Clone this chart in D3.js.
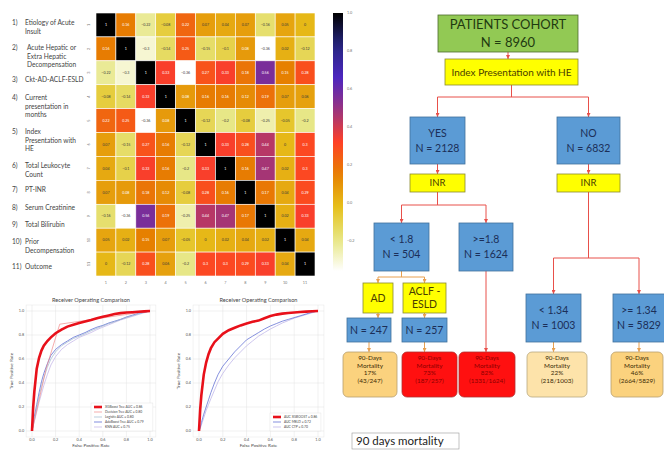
<!DOCTYPE html>
<html>
<head>
<meta charset="utf-8">
<script src="https://cdn.jsdelivr.net/npm/d3@7"></script>
<style>
  body { margin: 0; background: #fff; }
  svg { display: block; font-family: Lato, "Open Sans", sans-serif; }
</style>
</head>
<body>
<div id="chart"></div>
<script>
// ---- heatmap data ----
const varLabels = [
  ["Etiology of Acute", "Insult"],
  ["Acute Hepatic or", "Extra Hepatic", "Decompensation"],
  ["Ckt-AD-ACLF-ESLD"],
  ["Current", "presentation in", "months"],
  ["Index", "Presentation with", "HE"],
  ["Total Leukocyte", "Count"],
  ["PT-INR"],
  ["Serum Creatinine"],
  ["Total Bilirubin"],
  ["Prior", "Decompensation"],
  ["Outcome"]
];
const varTicks = ["1", "2", "3", "4", "5", "6", "7", "8", "9", "10", "11"];
const corr = [
  [1, 0.16, -0.22, -0.08, 0.22, 0.07, 0.04, 0.07, -0.16, 0.05, 0],
  [0.16, 1, -0.3, -0.14, 0.25, -0.15, -0.1, 0.08, -0.36, 0.02, -0.12],
  [-0.22, -0.3, 1, 0.33, -0.36, 0.27, 0.33, 0.18, 0.56, 0.15, 0.28],
  [-0.08, -0.14, 0.33, 1, 0.08, 0.16, 0.16, 0.12, 0.19, 0.07, 0.06],
  [0.22, 0.25, -0.36, 0.08, 1, -0.12, -0.2, -0.08, -0.25, -0.05, -0.2],
  [0.07, -0.15, 0.27, 0.16, -0.12, 1, 0.33, 0.28, 0.44, 0, 0.3],
  [0.04, -0.1, 0.33, 0.16, -0.2, 0.33, 1, 0.16, 0.47, 0.02, 0.3],
  [0.07, 0.08, 0.18, 0.12, -0.08, 0.28, 0.16, 1, 0.17, 0.04, 0.29],
  [-0.16, -0.36, 0.56, 0.19, -0.25, 0.44, 0.47, 0.17, 1, 0.02, 0.33],
  [0.05, 0.02, 0.15, 0.07, -0.05, 0, 0.02, 0.04, 0.02, 1, 0.04],
  [0, -0.12, 0.28, 0.06, -0.2, 0.3, 0.3, 0.29, 0.33, 0.04, 1]
];
const colorTicks = [1.0, 0.8, 0.6, 0.4, 0.2, 0.0, -0.2];
// CMRmap, reversed so that 1.0 is black
const cmrStops = ["#000000", "#262680", "#4d26bf", "#993380", "#ff4026", "#e68000", "#e6bf1a", "#e6e680", "#ffffff"];

// ---- ROC data ----
const fprGrid = [0, 0.01, 0.02, 0.04, 0.06, 0.08, 0.1, 0.13, 0.16, 0.2, 0.25, 0.3, 0.35, 0.4, 0.45, 0.5, 0.55, 0.6, 0.65, 0.7, 0.75, 0.8, 0.85, 0.9, 0.95, 1];
const xgbLeft = [0, 0.2, 0.33, 0.52, 0.61, 0.67, 0.71, 0.75, 0.78, 0.815, 0.845, 0.87, 0.885, 0.9, 0.912, 0.925, 0.94, 0.952, 0.963, 0.975, 0.982, 0.987, 0.99, 0.994, 0.997, 1];
const adaLeft = [0, 0.06, 0.12, 0.22, 0.32, 0.41, 0.48, 0.56, 0.63, 0.68, 0.72, 0.75, 0.78, 0.8, 0.82, 0.845, 0.865, 0.88, 0.9, 0.915, 0.93, 0.95, 0.965, 0.98, 0.99, 1];
const logLeft = [0, 0.05, 0.1, 0.2, 0.29, 0.37, 0.44, 0.53, 0.6, 0.66, 0.71, 0.74, 0.77, 0.79, 0.81, 0.835, 0.855, 0.875, 0.895, 0.91, 0.93, 0.945, 0.96, 0.975, 0.99, 1];
const knnLeft = [0, 0.04, 0.08, 0.16, 0.24, 0.31, 0.38, 0.47, 0.55, 0.62, 0.68, 0.72, 0.75, 0.78, 0.8, 0.82, 0.845, 0.865, 0.885, 0.905, 0.925, 0.94, 0.955, 0.97, 0.985, 1];
const dtFpr = [0, 0.12, 0.235, 1];
const dtTpr = [0, 0.52, 0.89, 1];
const xgbRight = [0, 0.18, 0.3, 0.47, 0.57, 0.64, 0.69, 0.74, 0.77, 0.81, 0.84, 0.86, 0.88, 0.895, 0.91, 0.92, 0.94, 0.958, 0.97, 0.978, 0.984, 0.988, 0.992, 0.995, 0.998, 1];
const meldRight = [0, 0.03, 0.07, 0.14, 0.2, 0.26, 0.32, 0.4, 0.47, 0.54, 0.6, 0.66, 0.71, 0.76, 0.79, 0.82, 0.85, 0.875, 0.895, 0.915, 0.93, 0.945, 0.96, 0.975, 0.99, 1];
const ctpRight = [0, 0.02, 0.05, 0.11, 0.17, 0.22, 0.27, 0.34, 0.41, 0.48, 0.55, 0.61, 0.66, 0.71, 0.75, 0.79, 0.82, 0.85, 0.875, 0.9, 0.92, 0.94, 0.955, 0.97, 0.985, 1];
const rocTicks = [0, 0.2, 0.4, 0.6, 0.8, 1.0];

// ---- decision tree data ----
const treeNodes = [
  {id: "cohort", kind: "green", lines: ["PATIENTS COHORT", "N = 8960"]},
  {id: "index", kind: "yellow", lines: ["Index Presentation with HE"]},
  {id: "yes", kind: "blue", lines: ["YES", "N = 2128"]},
  {id: "no", kind: "blue", lines: ["NO", "N = 6832"]},
  {id: "inrY", kind: "yellow", lines: ["INR"]},
  {id: "inrN", kind: "yellow", lines: ["INR"]},
  {id: "lt18", kind: "blue", lines: ["< 1.8", "N = 504"]},
  {id: "ge18", kind: "blue", lines: [">=1.8", "N = 1624"]},
  {id: "lt134", kind: "blue", lines: ["< 1.34", "N = 1003"]},
  {id: "ge134", kind: "blue", lines: [">= 1.34", "N = 5829"]},
  {id: "ad", kind: "yellow", lines: ["AD"]},
  {id: "aclf", kind: "yellow", lines: ["ACLF -", "ESLD"]},
  {id: "n247", kind: "blue", lines: ["N = 247"]},
  {id: "n257", kind: "blue", lines: ["N = 257"]},
  {id: "m1", kind: "peach", lines: ["90-Days", "Mortality", "17%", "(43/247)"]},
  {id: "m2", kind: "red", lines: ["90-Days", "Mortality", "73%", "(187/257)"]},
  {id: "m3", kind: "red", lines: ["90-Days", "Mortality", "82%", "(1331/1624)"]},
  {id: "m4", kind: "pale", lines: ["90-Days", "Mortality", "22%", "(218/1003)"]},
  {id: "m5", kind: "peach", lines: ["90-Days", "Mortality", "46%", "(2664/5829)"]}
];
const treeLinks = [
  ["cohort", ["index"], "red"],
  ["index", ["yes", "no"], "red"],
  ["yes", ["inrY"], "red"],
  ["no", ["inrN"], "red"],
  ["inrY", ["lt18", "ge18"], "red"],
  ["inrN", ["lt134", "ge134"], "red"],
  ["lt18", ["ad", "aclf"], "orange"],
  ["ad", ["n247"], "orange"],
  ["aclf", ["n257"], "orange"],
  ["ge18", ["m3"], "red"],
  ["n247", ["m1"], "orange"],
  ["n257", ["m2"], "orange"],
  ["lt134", ["m4"], "orange"],
  ["ge134", ["m5"], "orange"]
];

// box positions of the flow chart (x, y, w, h)
const boxLayout = {
  cohort: [438, 15, 140, 37], index: [445, 59, 133, 26],
  yes: [410, 117, 55, 47], no: [557, 117, 63, 47],
  inrY: [410, 174, 55, 18], inrN: [557, 174, 63, 18],
  lt18: [374, 223, 55, 48], ge18: [459, 223, 54, 48],
  lt134: [526, 294, 55, 48], ge134: [613, 294, 52, 48],
  ad: [363, 283, 30, 30], aclf: [403, 283, 43, 30],
  n247: [347, 318, 44, 24], n257: [402, 318, 45, 24],
  m1: [343, 352, 54, 45], m2: [402, 352, 55, 45], m3: [459, 352, 56, 45],
  m4: [527, 352, 60, 45], m5: [611, 352, 52, 45]
};
const branchY = {index: 97, inrY: 205, inrN: 258, lt18: 277};

const W = 664, H = 453;
const svg = d3.select("#chart").append("svg")
  .attr("width", W).attr("height", H);

// ================= heatmap =================
function renderHeatmap() {
  const vmin = -0.36, vmax = 1.0;
  const color = d3.scaleLinear()
    .domain(cmrStops.map((c, i) => vmax - i / (cmrStops.length - 1) * (vmax - vmin)))
    .range(cmrStops)
    .clamp(true);

  const x = d3.scaleBand().domain(varTicks).range([96, 315]);
  const y = d3.scaleBand().domain(varTicks).range([13, 276]);
  const g = svg.append("g");

  const cells = [];
  corr.forEach((row, i) => row.forEach((v, j) => cells.push({r: varTicks[i], c: varTicks[j], v})));

  g.selectAll("rect.cell").data(cells).enter().append("rect")
    .attr("class", "cell")
    .attr("x", d => x(d.c)).attr("y", d => y(d.r))
    .attr("width", x.bandwidth()).attr("height", y.bandwidth())
    .attr("fill", d => color(d.v))
    .attr("stroke", "#fff").attr("stroke-width", 0.6);

  const lum = c => {
    const rgb = d3.rgb(c);
    const f = u => { u /= 255; return u <= 0.03928 ? u / 12.92 : Math.pow((u + 0.055) / 1.055, 2.4); };
    return 0.2126 * f(rgb.r) + 0.7152 * f(rgb.g) + 0.0722 * f(rgb.b);
  };

  g.selectAll("text.annot").data(cells).enter().append("text")
    .attr("class", "annot")
    .attr("x", d => x(d.c) + x.bandwidth() / 2)
    .attr("y", d => y(d.r) + y.bandwidth() / 2)
    .attr("text-anchor", "middle").attr("dy", "0.35em")
    .attr("font-size", 3.6)
    .attr("fill", d => lum(color(d.v)) > 0.408 ? "#3a3a3a" : "#fff")
    .text(d => d3.format(".2~g")(d.v));

  // tick labels
  g.selectAll("text.ytick").data(varTicks).enter().append("text")
    .attr("transform", d => `translate(90, ${y(d) + y.bandwidth() / 2}) rotate(-90)`)
    .attr("text-anchor", "middle").attr("font-size", 3.8).attr("fill", "#777")
    .text(d => d);
  g.selectAll("text.xtick").data(varTicks).enter().append("text")
    .attr("x", d => x(d) + x.bandwidth() / 2).attr("y", 284)
    .attr("text-anchor", "middle").attr("font-size", 3.8).attr("fill", "#777")
    .text(d => d);

  // variable names on the left
  const labelY = [23, 48, 80, 98, 132, 166, 190, 208, 225, 242, 267];
  varLabels.forEach((lines, i) => {
    g.append("text").attr("x", 12).attr("y", labelY[i]).attr("dy", "0.35em")
      .attr("font-size", 6.6).attr("fill", "#444").text(`${i + 1})`);
    lines.forEach((ln, k) => {
      g.append("text").attr("x", i === 1 ? 27 : 25).attr("y", labelY[i] + k * 8.2).attr("dy", "0.35em")
        .attr("font-size", 6.6).attr("fill", "#444").text(ln);
    });
  });

  // colorbar
  const cb = d3.scaleLinear().domain([vmin, vmax]).range([271, 13]);
  const grad = svg.append("defs").append("linearGradient")
    .attr("id", "cbgrad").attr("x1", 0).attr("y1", 1).attr("x2", 0).attr("y2", 0);
  d3.range(0, 1.0001, 0.05).forEach(t => {
    grad.append("stop").attr("offset", t).attr("stop-color", color(vmin + t * (vmax - vmin)));
  });
  g.append("rect").attr("x", 333).attr("y", cb(vmax)).attr("width", 10)
    .attr("height", cb(vmin) - cb(vmax)).attr("fill", "url(#cbgrad)");
  g.selectAll("text.cbt").data(colorTicks).enter().append("text")
    .attr("x", 347).attr("y", d => cb(d)).attr("dy", "0.35em")
    .attr("font-size", 3.8).attr("fill", "#777")
    .text(d => d3.format(".1f")(d));
}

// ================= ROC panels =================
function renderRoc(x0, x1, title, series, legendX) {
  const x = d3.scaleLinear().domain([0, 1]).range([x0, x1]);
  const y = d3.scaleLinear().domain([0, 1]).range([431, 311]);
  const g = svg.append("g");

  g.append("rect").attr("x", x(-0.05)).attr("y", y(1.05))
    .attr("width", x(1.05) - x(-0.05)).attr("height", y(-0.05) - y(1.05))
    .attr("fill", "#fff").attr("stroke", "#e6e6e6").attr("stroke-width", 0.5);

  rocTicks.forEach(t => {
    g.append("line").attr("x1", x(t)).attr("x2", x(t)).attr("y1", y(-0.05)).attr("y2", y(1.05))
      .attr("stroke", "#e3e3e3").attr("stroke-width", 0.5);
    g.append("line").attr("y1", y(t)).attr("y2", y(t)).attr("x1", x(-0.05)).attr("x2", x(1.05))
      .attr("stroke", "#e3e3e3").attr("stroke-width", 0.5);
  });

  g.selectAll("text.xt").data(rocTicks).enter().append("text")
    .attr("x", d => x(d)).attr("y", 441).attr("text-anchor", "middle")
    .attr("font-size", 3.8).attr("fill", "#555").text(d => d3.format(".1f")(d));
  g.selectAll("text.yt").data(rocTicks).enter().append("text")
    .attr("x", x(-0.05) - 2).attr("y", d => y(d)).attr("dy", "0.35em").attr("text-anchor", "end")
    .attr("font-size", 3.8).attr("fill", "#555").text(d => d3.format(".1f")(d));

  g.append("text").attr("x", (x0 + x1) / 2).attr("y", 447).attr("text-anchor", "middle")
    .attr("font-size", 4.6).attr("fill", "#444").text("False Positive Rate");
  g.append("text").attr("transform", `translate(${x0 - 19}, ${y(0.5)}) rotate(-90)`)
    .attr("text-anchor", "middle").attr("font-size", 4.6).attr("fill", "#444").text("True Positive Rate");
  g.append("text").attr("x", (x0 + x1) / 2).attr("y", 302).attr("text-anchor", "middle")
    .attr("font-size", 5.6).attr("fill", "#444").text(title);

  const line = d3.line().x(d => x(d[0])).y(d => y(d[1]));
  series.slice().reverse().forEach(s => {
    g.append("path").datum(s.fpr.map((f, i) => [f, s.tpr[i]]))
      .attr("d", line).attr("fill", "none")
      .attr("stroke", s.color).attr("stroke-width", s.width);
  });

  // legend
  const ly0 = 431 - (series.length - 1) * 5 - 4;
  g.append("rect").attr("x", legendX - 3).attr("y", ly0 - 4)
    .attr("width", x(1.05) - legendX).attr("height", series.length * 5 + 3)
    .attr("fill", "#fff").attr("stroke", "#ddd").attr("stroke-width", 0.4);
  series.forEach((s, i) => {
    const ly = ly0 + i * 5;
    g.append("line").attr("x1", legendX).attr("x2", legendX + 8).attr("y1", ly).attr("y2", ly)
      .attr("stroke", s.color).attr("stroke-width", s.width);
    g.append("text").attr("x", legendX + 11).attr("y", ly).attr("dy", "0.35em")
      .attr("font-size", 3.3).attr("fill", "#444").text(s.name);
  });
}

// ================= decision tree =================
function renderTree() {
  const g = svg.append("g");
  const fills = {
    green: ["#92c954", "#4e6b2e", "#1f3a10"],
    yellow: ["#ffff00", "#8a8a30", "#4a3d00"],
    blue: ["#5b9bd5", "#41719c", "#1b2f58"],
    peach: ["#fbd27e", "#b8a070", "#3b2a05"],
    pale: ["#fde3aa", "#b8a880", "#3b2a05"],
    red: ["#ff1010", "#b03030", "#8a0000"]
  };
  const lineColor = {red: "#e8504a", orange: "#e8a050"};
  const defs = svg.append("defs");
  Object.entries(lineColor).forEach(([k, c]) => {
    defs.append("marker").attr("id", "arr-" + k)
      .attr("viewBox", "0 0 6 6").attr("refX", 6).attr("refY", 3)
      .attr("markerWidth", 4).attr("markerHeight", 4).attr("orient", "auto")
      .append("path").attr("d", "M0,0 L6,3 L0,6 Z").attr("fill", c);
  });

  const box = id => {
    const [bx, by, bw, bh] = boxLayout[id];
    return {x: bx, y: by, w: bw, h: bh, cx: bx + bw / 2};
  };

  treeLinks.forEach(([from, to, col]) => {
    const p = box(from);
    const stroke = lineColor[col];
    if (to.length === 1) {
      const c = box(to[0]);
      g.append("line").attr("x1", p.cx).attr("x2", p.cx).attr("y1", p.y + p.h).attr("y2", c.y)
        .attr("stroke", stroke).attr("stroke-width", 1)
        .attr("marker-end", `url(#arr-${col})`);
    } else {
      const my = branchY[from];
      const kids = to.map(box);
      g.append("line").attr("x1", p.cx).attr("x2", p.cx).attr("y1", p.y + p.h).attr("y2", my)
        .attr("stroke", stroke).attr("stroke-width", 1);
      g.append("line").attr("x1", kids[0].cx).attr("x2", kids[1].cx).attr("y1", my).attr("y2", my)
        .attr("stroke", stroke).attr("stroke-width", 1);
      kids.forEach(k => {
        g.append("line").attr("x1", k.cx).attr("x2", k.cx).attr("y1", my).attr("y2", k.y)
          .attr("stroke", stroke).attr("stroke-width", 1)
          .attr("marker-end", `url(#arr-${col})`);
      });
    }
  });

  treeNodes.forEach(n => {
    const b = box(n.id);
    const [fill, stroke, txt] = fills[n.kind];
    const rounded = n.id.startsWith("m");
    g.append("rect").attr("x", b.x).attr("y", b.y).attr("width", b.w).attr("height", b.h)
      .attr("rx", rounded ? 5 : 0)
      .attr("fill", fill).attr("stroke", stroke).attr("stroke-width", 0.8);

    let fs = 10.5, gap = 15;
    if (n.id === "cohort") { fs = 13; gap = 18; }
    if (n.id === "index") { fs = 10; }
    if (n.id.startsWith("inr")) { fs = 9.5; }
    if (rounded) { fs = 6.4; gap = 7.8; }
    if (n.id === "ad" || n.id === "aclf") { gap = 13; }
    const top = rounded ? b.y + 5.5 : b.y + b.h / 2 - (n.lines.length - 1) * gap / 2;
    n.lines.forEach((ln, k) => {
      g.append("text").attr("x", b.cx).attr("y", top + k * gap).attr("dy", "0.35em")
        .attr("text-anchor", "middle").attr("font-size", fs).attr("fill", txt)
        .text(ln);
    });
  });

  // caption box
  g.append("rect").attr("x", 352).attr("y", 433).attr("width", 107).attr("height", 16)
    .attr("fill", "#fff").attr("stroke", "#999").attr("stroke-width", 0.6);
  g.append("text").attr("x", 356).attr("y", 441).attr("dy", "0.35em")
    .attr("font-size", 11.5).attr("fill", "#222").text("90 days mortality");
}

renderHeatmap();
renderRoc(32, 150, "Receiver Operating Comparison", [
  {name: "XGBoost Tree AUC = 0.86", fpr: fprGrid, tpr: xgbLeft, color: "#e8101a", width: 2.6},
  {name: "Decision Tree AUC = 0.80", fpr: dtFpr, tpr: dtTpr, color: "#f08a8a", width: 0.7},
  {name: "Logistic AUC = 0.80", fpr: fprGrid, tpr: logLeft, color: "#9fb8cf", width: 0.7},
  {name: "AdaBoost Tree AUC = 0.79", fpr: fprGrid, tpr: adaLeft, color: "#4a5cd0", width: 0.7},
  {name: "KNN AUC = 0.75", fpr: fprGrid, tpr: knnLeft, color: "#c0b0e6", width: 0.7}
], 94);
renderRoc(199, 318, "Receiver Operating Comparison", [
  {name: "AUC XGBOOST = 0.86", fpr: fprGrid, tpr: xgbRight, color: "#e8101a", width: 2.6},
  {name: "AUC MELD = 0.72", fpr: fprGrid, tpr: meldRight, color: "#5060d0", width: 0.7},
  {name: "AUC CTP = 0.70", fpr: fprGrid, tpr: ctpRight, color: "#b8aee6", width: 0.7}
], 273);
renderTree();
</script>
</body>
</html>
